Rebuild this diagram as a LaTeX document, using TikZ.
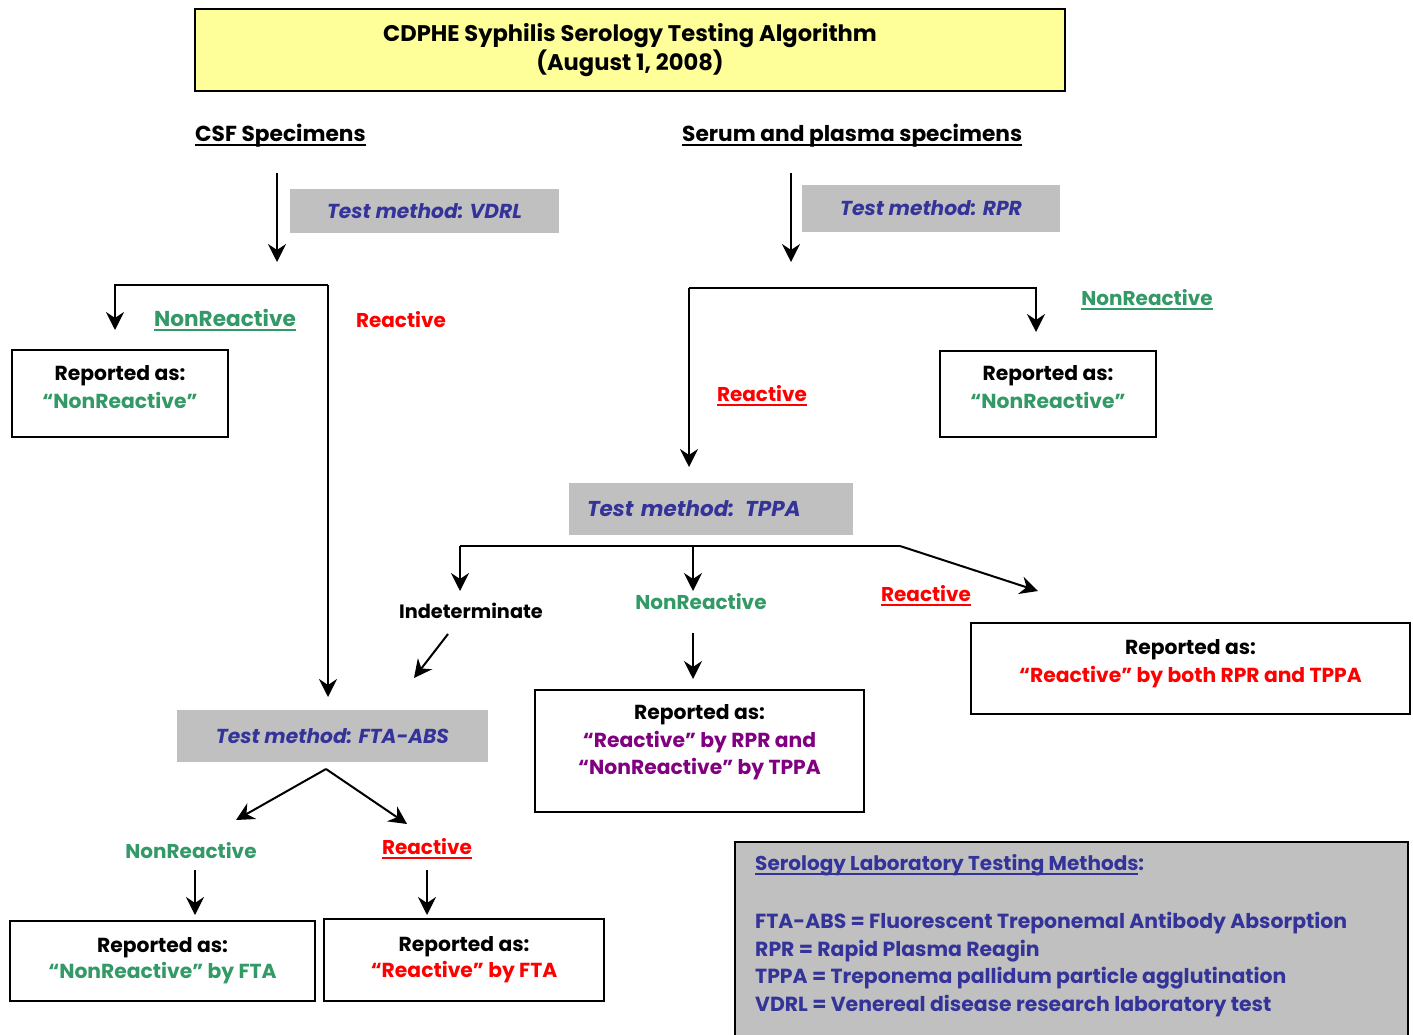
\documentclass[tikz,border=0pt]{standalone}
\usepackage{fontspec}
\setmainfont{Poppins}
\newsavebox{\ulbox}
\newcommand{\myul}[1]{\sbox{\ulbox}{#1}\rlap{\rule[-4.5pt]{\wd\ulbox}{2.2pt}}\usebox{\ulbox}}
\usetikzlibrary{arrows.meta}
\definecolor{ttlyellow}{HTML}{FFFF99}
\definecolor{boxgray}{HTML}{C0C0C0}
\definecolor{navy}{HTML}{333399}
\definecolor{grn}{HTML}{339966}
\definecolor{rd}{HTML}{FF0000}
\definecolor{purp}{HTML}{800080}
\newcommand{\fs}[2]{\fontsize{#1}{#2}\selectfont}
\begin{document}
\begin{tikzpicture}[x=1pt,y=-1pt,
  every node/.style={font=\bfseries},
  ln/.style={line width=2pt},
  arr/.style={line width=2pt,-{Stealth[length=18pt,width=18pt,inset=6pt]}},
  method/.style={fill=boxgray,text=navy,inner sep=0pt,font=\bfseries\itshape\fs{20.2}{24}},
  report/.style={draw,line width=2pt,fill=white,align=center,inner sep=0pt,font=\bfseries\fs{20.3}{28},text=black},
  lbl/.style={inner sep=0pt,font=\bfseries\fs{20}{24}}]
\useasboundingbox (0,0) rectangle (1413,1035);

% title
\node[draw,line width=2pt,fill=ttlyellow,minimum width=870pt,minimum height=82pt,align=center,
  font=\bfseries\fs{22.6}{29}] (title) at (630,50)
  {CDPHE Syphilis Serology Testing Algorithm\\(August 1, 2008)};

% headings
\node[lbl,anchor=west,font=\bfseries\fs{21.7}{24}] (csfh) at (195,136) {\myul{CSF Specimens}};
\node[lbl,anchor=west,font=\bfseries\fs{21.7}{24}] (serh) at (682,136) {\myul{Serum and plasma specimens}};

% method boxes
\node[method,minimum width=269pt,minimum height=44pt] (vdrl) at (424.5,211) {Test method: VDRL};
\node[method,minimum width=258pt,minimum height=47pt] (rpr) at (931,208.5) {Test method: RPR};
\node[method,minimum width=284pt,minimum height=52pt,text width=248pt,inner xsep=18pt,align=left,
  font=\bfseries\itshape\fs{21.5}{24}] (tppa) at (711,509) {Test method: TPPA};
\node[method,minimum width=311pt,minimum height=52pt] (fta) at (332.5,736) {Test method: FTA-ABS};

% report boxes
\node[report,minimum width=216pt,minimum height=87pt] (csfnr) at (120,393.5)
  {Reported as:\\\textcolor{grn}{``NonReactive''}\\[-14pt]\mbox{}};
\node[report,minimum width=216pt,minimum height=86pt] (rprnr) at (1048,394)
  {Reported as:\\\textcolor{grn}{``NonReactive''}\\[-14pt]\mbox{}};
\node[report,minimum width=329pt,minimum height=122pt] (tppanr) at (699.5,751)
  {Reported as:\\\textcolor{purp}{``Reactive'' by RPR and}\\[-1pt]\textcolor{purp}{``NonReactive'' by TPPA}\\[-4pt]\mbox{}};
\node[report,minimum width=439pt,minimum height=91pt] (both) at (1190.5,668.5)
  {Reported as:\\\textcolor{rd}{``Reactive'' by both RPR and TPPA}\\[-12pt]\mbox{}};
\node[report,minimum width=305pt,minimum height=80pt] (ftanr) at (162.5,961)
  {Reported as:\\[-2pt]\textcolor{grn}{``NonReactive'' by FTA}\\[-22pt]\mbox{}};
\node[report,minimum width=280pt,minimum height=82pt] (ftar) at (464,960)
  {Reported as:\\[-2pt]\textcolor{rd}{``Reactive'' by FTA}\\[-22pt]\mbox{}};

% legend
\draw[line width=2pt,fill=boxgray] (735,1045) rectangle (1408,842);
\node[lbl,anchor=west,text=navy] (legh) at (755,865) {\myul{Serology Laboratory Testing Methods}:};
\node[lbl,anchor=north west,text=navy,align=left,font=\bfseries\fs{20.4}{27.5}] (legb) at (755,912)
  {FTA-ABS = Fluorescent Treponemal Antibody Absorption\\
   RPR = Rapid Plasma Reagin\\
   TPPA = Treponema pallidum particle agglutination\\
   VDRL = Venereal disease research laboratory test};

% labels
\node[lbl,text=grn,font=\bfseries\fs{21.6}{24}] (l1) at (225,320) {\myul{NonReactive}};
\node[lbl,text=rd] (l2) at (401,320) {Reactive};
\node[lbl,text=grn] (l3) at (1147,300) {\myul{NonReactive}};
\node[lbl,text=rd] (l4) at (762,396) {\myul{Reactive}};
\node[lbl,text=black,font=\bfseries\fs{19.3}{24}] (ind) at (471,611) {Indeterminate};
\node[lbl,text=grn] (l5) at (701,602) {NonReactive};
\node[lbl,text=rd] (l6) at (926,596) {\myul{Reactive}};
\node[lbl,text=grn] (l7) at (191,851) {NonReactive};
\node[lbl,text=rd] (l8) at (427,849) {\myul{Reactive}};

% coordinates
\coordinate (csfA) at (277,173); \coordinate (csfB) at (277,262);
\coordinate (csfS) at (328,285); \coordinate (csfL) at (115,285);
\coordinate (csfNR) at (115,330); \coordinate (ftaIn) at (328,697);
\coordinate (serA) at (791,173); \coordinate (serB) at (791,262);
\coordinate (serL) at (689,288); \coordinate (serR) at (1036,288);
\coordinate (serNR) at (1036,332); \coordinate (tppaIn) at (689,467);
\coordinate (tL) at (460,546); \coordinate (tM) at (693,546); \coordinate (tR) at (900,546);
\coordinate (tLe) at (460,591); \coordinate (tMe) at (693,591); \coordinate (tRe) at (1038,591);
\coordinate (indA) at (448,634); \coordinate (indB) at (414,678);
\coordinate (nrA) at (693,633); \coordinate (nrB) at (693,679);
\coordinate (fS) at (326,769); \coordinate (fNR) at (236,820); \coordinate (fR) at (407,824);
\coordinate (fnA) at (195,870); \coordinate (fnB) at (195,915);
\coordinate (frA) at (427,870); \coordinate (frB) at (427,915);

% connectors
\draw[arr] (csfA) -- (csfB);
\draw[arr] (csfS) -- (csfL) -- (csfNR);
\draw[arr] (csfS) -- (ftaIn);
\draw[arr] (serA) -- (serB);
\draw[arr] (serL) -- (serR) -- (serNR);
\draw[arr] (serL) -- (tppaIn);
\draw[ln] (tL) -- (tR);
\draw[arr] (tL) -- (tLe);
\draw[arr] (tM) -- (tMe);
\draw[arr] (tR) -- (tRe);
\draw[arr] (indA) -- (indB);
\draw[arr] (nrA) -- (nrB);
\draw[arr] (fS) -- (fNR);
\draw[arr] (fS) -- (fR);
\draw[arr] (fnA) -- (fnB);
\draw[arr] (frA) -- (frB);
\end{tikzpicture}
\end{document}
